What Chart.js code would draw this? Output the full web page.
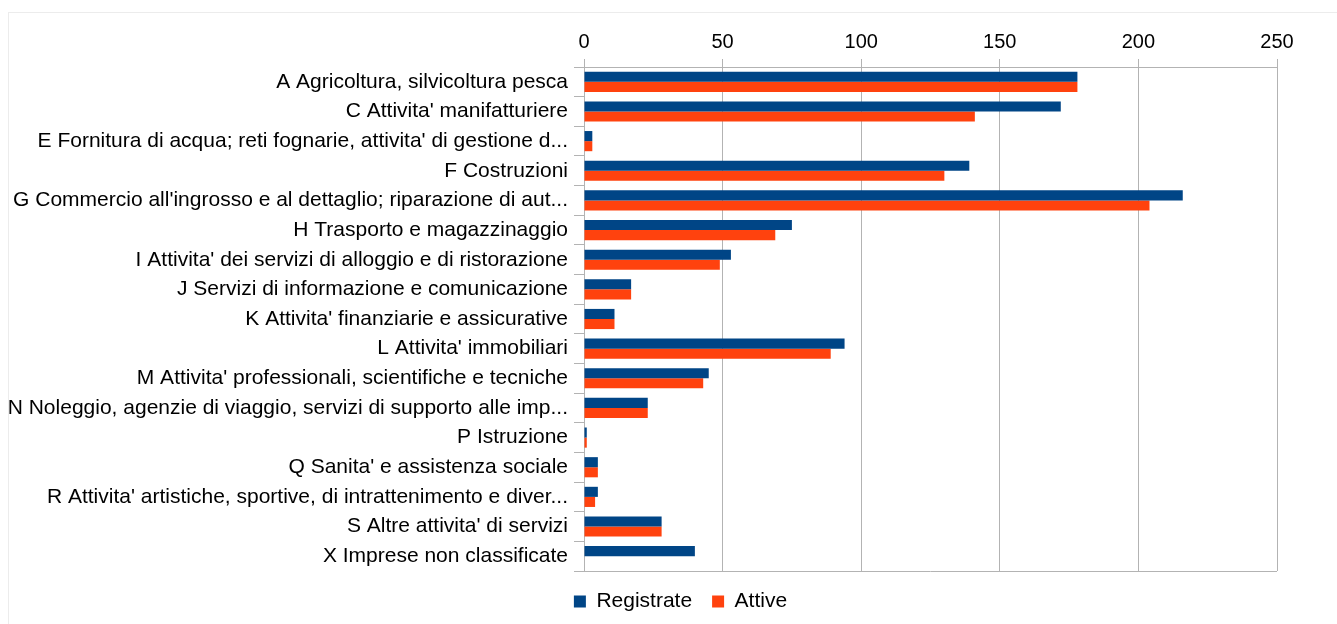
<!DOCTYPE html>
<html>
<head>
<meta charset="utf-8">
<script src="https://cdn.jsdelivr.net/npm/chart.js@4"></script>
<style>
  body { margin: 0; background: #fff; }
  #frame { position: absolute; left: 8px; top: 12px; width: 1340px; height: 700px; border: 1px solid #ececec; }
  #wrap { position: absolute; left: 0; top: 0; width: 1337px; height: 624px; }
</style>
</head>
<body>
<div id="frame"></div>
<div id="wrap"><canvas id="chart"></canvas></div>
<script>
// categorie (etichette come nel grafico originale)
const categories = [
    "A Agricoltura, silvicoltura pesca",
    "C Attivita' manifatturiere",
    "E Fornitura di acqua; reti fognarie, attivita' di gestione d...",
    "F Costruzioni",
    "G Commercio all'ingrosso e al dettaglio; riparazione di aut...",
    "H Trasporto e magazzinaggio",
    "I Attivita' dei servizi di alloggio e di ristorazione",
    "J Servizi di informazione e comunicazione",
    "K Attivita' finanziarie e assicurative",
    "L Attivita' immobiliari",
    "M Attivita' professionali, scientifiche e tecniche",
    "N Noleggio, agenzie di viaggio, servizi di supporto alle imp...",
    "P Istruzione",
    "Q Sanita' e assistenza sociale",
    "R Attivita' artistiche, sportive, di intrattenimento e diver...",
    "S Altre attivita' di servizi",
    "X Imprese non classificate"
];

const registrate = [178, 172, 3, 139, 216, 75, 53, 17, 11, 94, 45, 23, 1, 5, 5, 28, 40];
const attive     = [178, 141, 3, 130, 204, 69, 49, 17, 11, 89, 43, 23, 1, 5, 4, 28, 0];

const xTicks = [0, 50, 100, 150, 200, 250];

const gray = '#b3b3b3';
const family = "'Liberation Sans', Arial, sans-serif";

// la legenda nell'originale e' un po' spostata a destra
function moveLegend(chart) {
    const lg = chart.legend;
    if (!lg) return;
    const w = lg.right - lg.left;
    lg.left = 42;
    lg.right = 42 + w;
}
const shiftLegend = {
    id: 'shiftLegend',
    afterLayout: moveLegend,
    beforeDraw: moveLegend
};

const ctx = document.getElementById('chart').getContext('2d');
new Chart(ctx, {
    type: 'bar',
    data: {
        labels: categories,
        datasets: [
            { label: 'Registrate', data: registrate, backgroundColor: '#004586', borderWidth: 0 },
            { label: 'Attive', data: attive, backgroundColor: '#ff420e', borderWidth: 0 }
        ]
    },
    options: {
        indexAxis: 'y',
        responsive: true,
        maintainAspectRatio: false,
        animation: false,
        layout: { padding: { left: 0, right: 60, top: 22, bottom: 2 } },
        datasets: { bar: { categoryPercentage: 0.68, barPercentage: 1 } },
        scales: {
            x: {
                position: 'top',
                min: xTicks[0],
                max: xTicks[xTicks.length - 1],
                afterBuildTicks: scale => { scale.ticks = xTicks.map(v => ({ value: v })); },
                afterFit: scale => { scale.height = 45; },
                ticks: { color: '#000', font: { family: family, size: 20 }, padding: 5 },
                grid: { color: gray, lineWidth: 1, tickLength: 8 },
                border: { color: gray }
            },
            y: {
                afterFit: scale => { scale.width = 584; },
                ticks: { color: '#000', font: { family: family, size: 21 }, padding: 6, autoSkip: false },
                grid: {
                    offset: true,
                    tickLength: 10,
                    tickColor: gray,
                    color: c => (c.index === 0 || c.index === undefined) ? gray : 'rgba(0,0,0,0)'
                },
                border: { display: false }
            }
        },
        plugins: {
            legend: {
                position: 'bottom',
                labels: { color: '#000', font: { family: family, size: 21 }, boxWidth: 12, boxHeight: 12, padding: 20 }
            },
            tooltip: { enabled: false }
        }
    },
    plugins: [shiftLegend]
});
</script>
</body>
</html>
